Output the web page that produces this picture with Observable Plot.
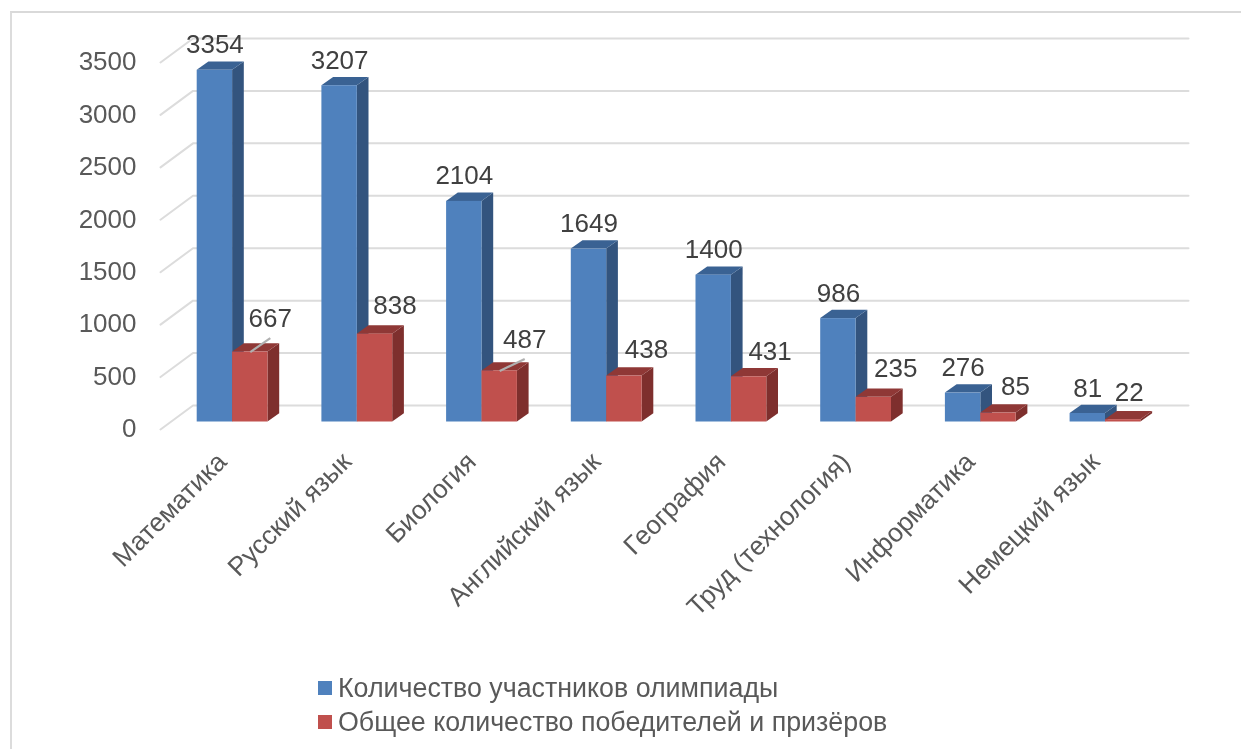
<!DOCTYPE html>
<html lang="ru">
<head>
<meta charset="utf-8">
<script src="https://cdn.jsdelivr.net/npm/d3@7"></script>
<script src="https://cdn.jsdelivr.net/npm/@observablehq/plot@0.6"></script>
<style>
  html, body { margin: 0; padding: 0; background: #fff; width: 1241px; height: 749px; overflow: hidden; }
  #frame { position: absolute; left: 10px; top: 11px; right: 0; bottom: 0; border-left: 2px solid #dcdcdc; border-top: 2px solid #d9d9d9; pointer-events: none; }
  #chart svg { display: block; filter: blur(0.35px); }
  #legend { padding-left: 318px; font: 26.8px "Liberation Sans", Arial, sans-serif; color: #595959; filter: blur(0.3px); }
  .row { display: flex; align-items: center; height: 34px; white-space: nowrap; }
  .sw { width: 14px; height: 14px; margin-right: 6px; flex: none; }
</style>
</head>
<body>
<div id="frame"></div>
<div id="chart"></div>
<div id="legend"></div>
<script>
const categories = ["Математика", "Русский язык", "Биология", "Английский язык", "География", "Труд (технология)", "Информатика", "Немецкий язык"];
const participants = [3354, 3207, 2104, 1649, 1400, 986, 276, 81];
const winners = [667, 838, 487, 438, 431, 235, 85, 22];
const seriesNames = ["Количество участников олимпиады", "Общее количество победителей и призёров"];
const yTicks = [0, 500, 1000, 1500, 2000, 2500, 3000, 3500];

const colors = {
  blue: {front: "#4f81bd", side: "#33547e", top: "#3a6293"},
  red: {front: "#c0504d", side: "#7e2f2d", top: "#8f3836"}
};
// label nudges for the second series, in pixels
const redDx = [20, 20, 25, 22, 21, 22, 17, 6];
const redDy = [-25, -20, -23, -18, -17, -20, -18, -19];
// leader lines from a bar top towards its label: category index and pixel reach
const leaderSpec = [{i: 0, dx: 20, dy: 14}, {i: 2, dx: 25, dy: 12}];

// layout: one x unit = one category, y units = values; depth is expressed in those units
const W = 1241, H = 671, ML = 136, MB = 226;
const pxX = 124.7, pxY = 0.10486;           // pixels per x unit / per value
const x0px = 196.7, y0px = 421.5;            // left edge / base of the first bar
const ux = p => p / pxX, uy = p => p / pxY;
const barW = ux(35.4), depX = ux(11.7), depY = uy(8.3);
const wallX0 = ux(160 - x0px), wallX1 = ux(192.5 - x0px), wallXEnd = ux(1188 - x0px);
const wallFrontY = uy(-7.5), wallBackY = uy(16.5);

function faces(values, offset) {
  const side = [], top = [];
  values.forEach((v, i) => {
    const l = i + offset, r = l + barW;
    side.push({b: i, x: r, y1: 0, y2: v}, {b: i, x: r + depX, y1: depY, y2: v + depY});
    top.push({b: i, y: v, x1: l, x2: r}, {b: i, y: v + depY, x1: l + depX, x2: r + depX});
  });
  const front = values.map((v, i) => ({x1: i + offset, x2: i + offset + barW, y1: 0, y2: v}));
  return {side, top, front};
}
const barMarks = (values, offset, c) => {
  const f = faces(values, offset);
  return [
    Plot.areaY(f.side, {x: "x", y1: "y1", y2: "y2", z: "b", fill: c.side, curve: "linear"}),
    Plot.areaX(f.top, {y: "y", x1: "x1", x2: "x2", z: "b", fill: c.top, curve: "linear"}),
    Plot.rectY(f.front, {x1: "x1", x2: "x2", y1: "y1", y2: "y2", fill: c.front, inset: 0})
  ];
};

const gridRows = yTicks.flatMap(v => [
  {v, x: wallX0, y: v + wallFrontY},
  {v, x: wallX1, y: v + wallBackY},
  {v, x: wallXEnd, y: v + wallBackY}
]);

const textStyle = {fontSize: 26, fill: "#404040", fontFamily: "Liberation Sans, Arial, sans-serif"};
const idx = categories.map((_, i) => i);

const redLabels = winners.map((v, i) => Plot.text([v], {
  x: () => i + barW * 1.5, y: d => d + depY, text: d => String(d),
  dx: redDx[i], dy: redDy[i], ...textStyle
}));

const leaders = leaderSpec.map(({i, dx, dy}) => Plot.link([winners[i]], {
  x1: () => i + barW * 1.5, y1: d => d,
  x2: () => i + barW * 1.5 + ux(dx), y2: d => d + uy(dy),
  stroke: "#b0b0b0", strokeWidth: 2.2
}));

const plot = Plot.plot({
  width: W, height: H,
  marginLeft: ML, marginRight: 0, marginTop: 0, marginBottom: MB,
  style: {background: "transparent", overflow: "visible"},
  x: {type: "linear", domain: [(ML - x0px) / pxX, (W - x0px) / pxX], range: [ML, W], axis: null},
  y: {type: "linear", domain: [(y0px - (H - MB)) / pxY, y0px / pxY], range: [H - MB, 0], axis: null},
  marks: [
    Plot.line(gridRows, {x: "x", y: "y", z: "v", stroke: "#dcdcdc", strokeWidth: 2, curve: "linear"}),
    ...barMarks(participants, 0, colors.blue),
    ...barMarks(winners, barW, colors.red),
    ...leaders,
    Plot.axisY({ticks: yTicks, tickFormat: d => String(d), tickSize: 0, tickPadding: 0, anchor: "left", dy: 7, label: null,
      fontSize: 26, fill: "#595959", fontFamily: "Liberation Sans, Arial, sans-serif"}),
    Plot.axisX({ticks: idx, tickFormat: i => categories[i], tickSize: 0, tickPadding: 0, tickRotate: -45,
      anchor: "bottom", label: null, dx: 25, dy: 12,
      fontSize: 26.3, fill: "#595959", fontFamily: "Liberation Sans, Arial, sans-serif"}),
    Plot.text(participants, {x: (d, i) => i + barW / 2, y: d => d + depY, text: d => String(d), dy: -17, ...textStyle}),
    ...redLabels
  ]
});
document.getElementById("chart").append(plot);

const legend = document.getElementById("legend");
seriesNames.forEach((n, i) => {
  const row = document.createElement("div");
  row.className = "row";
  const sw = document.createElement("span");
  sw.className = "sw";
  sw.style.background = i ? colors.red.front : colors.blue.front;
  row.append(sw, document.createTextNode(n));
  legend.append(row);
});
</script>
</body>
</html>
